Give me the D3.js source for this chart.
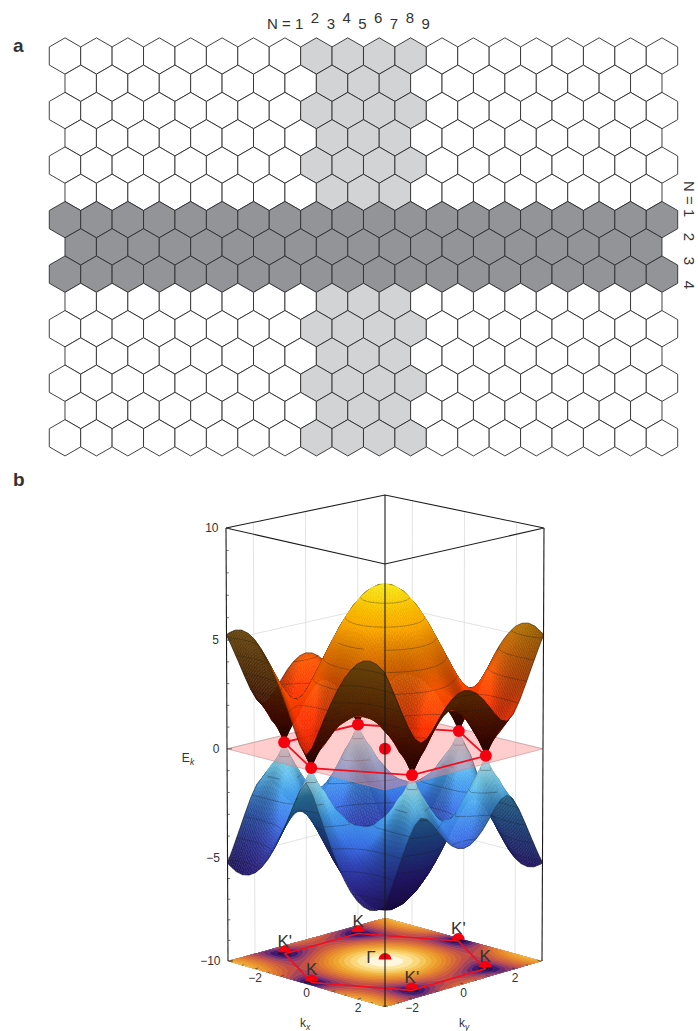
<!DOCTYPE html>
<html>
<head>
<meta charset="utf-8">
<script src="https://cdn.jsdelivr.net/npm/d3@7"></script>
<style>
  html, body { margin: 0; background: #fff; }
  text { font-family: "Liberation Sans", Arial, sans-serif; fill: #333; }
</style>
</head>
<body>
<svg id="drawing_region"></svg>
<script>
// panel a: honeycomb
const hexColumnCount = [20, 19];
const hexRowCount = 15;
const darkRows = [6, 7, 8];
const lightColumns = [8, 9, 10, 11];
const lightColumnsShort = [8, 9, 10];
const topLabels = ["2", "3", "4", "5", "6", "7", "8", "9"];
const sideLabels = ["2", "3", "4"];

// panel b: E(kx, ky) of the upper band (one quadrant, the plot is mirror symmetric)
const kxGrid = [0, 0.247, 0.494, 0.74, 0.987, 1.234, 1.481, 1.728, 1.974, 2.221, 2.468, 2.715, 2.962, 3.05];
const kyGrid = [0, 0.2375, 0.475, 0.7125, 0.95, 1.1875, 1.425, 1.6625, 1.9, 2.1375, 2.375, 2.6125, 2.85, 3.05];
const bandE = [
  [7.50, 7.42, 7.17, 6.78, 6.24, 5.59, 4.85, 4.07, 3.32, 2.73, 2.50, 2.73, 3.32, 3.58],
  [7.42, 7.34, 7.10, 6.71, 6.17, 5.52, 4.78, 4.00, 3.25, 2.66, 2.42, 2.66, 3.25, 3.51],
  [7.20, 7.12, 6.88, 6.49, 5.96, 5.32, 4.59, 3.81, 3.05, 2.45, 2.20, 2.45, 3.05, 3.31],
  [6.83, 6.75, 6.52, 6.14, 5.63, 5.00, 4.28, 3.50, 2.74, 2.10, 1.83, 2.10, 2.74, 3.00],
  [6.33, 6.26, 6.03, 5.67, 5.18, 4.57, 3.87, 3.11, 2.33, 1.65, 1.33, 1.65, 2.33, 2.60],
  [5.71, 5.64, 5.44, 5.10, 4.64, 4.07, 3.41, 2.67, 1.89, 1.14, 0.72, 1.14, 1.89, 2.17],
  [5.00, 4.94, 4.76, 4.46, 4.05, 3.54, 2.94, 2.27, 1.55, 0.78, 0.00, 0.78, 1.55, 1.81],
  [4.21, 4.16, 4.01, 3.77, 3.44, 3.03, 2.56, 2.04, 1.50, 1.02, 0.79, 1.02, 1.50, 1.69],
  [3.37, 3.34, 3.24, 3.09, 2.89, 2.65, 2.38, 2.11, 1.87, 1.70, 1.63, 1.70, 1.87, 1.95],
  [2.50, 2.50, 2.50, 2.50, 2.50, 2.50, 2.50, 2.50, 2.50, 2.50, 2.50, 2.50, 2.50, 2.50],
  [1.63, 1.70, 1.87, 2.11, 2.38, 2.65, 2.89, 3.09, 3.24, 3.34, 3.37, 3.34, 3.24, 3.20],
  [0.79, 1.02, 1.50, 2.04, 2.56, 3.03, 3.44, 3.77, 4.01, 4.16, 4.21, 4.16, 4.01, 3.94],
  [0.00, 0.78, 1.55, 2.27, 2.94, 3.54, 4.05, 4.46, 4.76, 4.94, 5.00, 4.94, 4.76, 4.66],
  [0.61, 1.06, 1.83, 2.60, 3.33, 3.99, 4.55, 5.00, 5.34, 5.54, 5.61, 5.54, 5.34, 5.23]
];
const diracKx = [0, -2.468, -2.468, 0, 2.468, 2.468];
const diracKy = [-2.85, -1.425, 1.425, 2.85, 1.425, -1.425];
const diracNames = ["K", "K'", "K", "K'", "K", "K'"];
const zTicks = [-10, -5, 0, 5, 10];
const zMinorTicks = d3.range(-10, 11);
const kTicks = [-2, 0, 2];
const kMinorTicks = [-3, -2.5, -2, -1.5, -1, -0.5, 0, 0.5, 1, 1.5, 2, 2.5, 3];
const wallLevels = [-5, 0, 5];
const meshLevels = [0.6, 1.5, 2.4, 3.3, 4.2, 5.1, 6.0, 6.9];
const floorLevels = d3.range(0, 7.6, 0.42);

const svg = d3.select("#drawing_region").attr("width", 698).attr("height", 1031);
const fmt = d3.format("d");
const minus = v => fmt(v).replace("-", "\u2212");

/* ---------- panel a ---------- */
const hexR = 18.15, hexW = 31.42, hexRowH = 27.27;
const hexX = d3.scaleLinear().domain([0, 1]).range([65, 65 + hexW]);
const hexY = d3.scaleLinear().domain([0, 1]).range([56, 56 + hexRowH]);
const hexPath = (cx, cy) => "M" + d3.range(6).map(i => {
  const a = Math.PI / 3 * i + Math.PI / 6;
  return [cx + hexR * Math.cos(a), cy + hexR * Math.sin(a)];
}).join("L") + "Z";

const hexCells = [];
d3.range(hexRowCount).forEach(r => {
  const odd = r % 2;
  d3.range(hexColumnCount[odd]).forEach(c => {
    let kind = "#fff";
    if (darkRows.includes(r)) kind = "#929497";
    else if ((odd ? lightColumnsShort : lightColumns).includes(c)) kind = "#d1d3d4";
    hexCells.push({ x: hexX(odd ? c + 0.5 : c), y: hexY(r), kind });
  });
});
svg.append("g").selectAll("path").data(hexCells).join("path")
  .attr("d", d => hexPath(d.x, d.y))
  .attr("fill", d => d.kind)
  .attr("stroke", "#2e2e2e")
  .attr("stroke-width", 0.9);

svg.append("text").attr("x", 13).attr("y", 52).attr("font-size", 19).attr("font-weight", "bold").text("a");
svg.append("text").attr("x", 13).attr("y", 486).attr("font-size", 19).attr("font-weight", "bold").text("b");
svg.append("text").attr("x", 267).attr("y", 29).attr("font-size", 15).text("N = 1");
svg.append("g").selectAll("text").data(topLabels).join("text")
  .attr("x", (d, i) => 315 + i * 15.8)
  .attr("y", (d, i) => i % 2 ? 29 : 23)
  .attr("text-anchor", "middle").attr("font-size", 15).text(d => d);
svg.append("text").attr("transform", "translate(684,181) rotate(90)").attr("font-size", 15).text("N = 1");
svg.append("g").selectAll("text").data(sideLabels).join("text")
  .attr("transform", (d, i) => `translate(684,${237 + i * 24}) rotate(90)`)
  .attr("text-anchor", "middle").attr("font-size", 15).text(d => d);

/* ---------- panel b: projection of the box ---------- */
const kMax = 3.05;
const uvScale = d3.scaleLinear().domain([-kMax, kMax]).range([-1, 1]);
const yTop = d3.scaleLinear().domain([-1, 0, 1]).range([495, 528, 564]);
const yBottom = d3.scaleLinear().domain([-1, 0, 1]).range([918, 961, 1007]);
const zFrac = d3.scaleLinear().domain(zTicks).range([0, 0.238, 0.49, 0.741, 1]);
const halfWidth = d3.scaleLinear().domain([0, 1]).range([157, 159]);

function project(kx, ky, e) {
  const u = uvScale(kx) / 2 + uvScale(ky) / 2;
  const v = uvScale(kx) / 2 - uvScale(ky) / 2;
  const t = zFrac(e);
  return [385 + u * halfWidth(t), yBottom(v) + (yTop(v) - yBottom(v)) * t];
}

const fullKx = [...kxGrid.slice(1).reverse().map(d => -d), ...kxGrid];
const fullKy = [...kyGrid.slice(1).reverse().map(d => -d), ...kyGrid];
const gridE = fullKy.map((ky, r) => fullKx.map((kx, c) =>
  bandE[Math.abs(r - kyGrid.length + 1)][Math.abs(c - kxGrid.length + 1)]));

const linePath = d3.line();
const closed = pts => linePath(pts) + "Z";

/* back walls */
const walls = svg.append("g").attr("fill", "none").attr("stroke", "#dcdcdc").attr("stroke-width", 0.8);
kTicks.forEach(k => {
  walls.append("path").attr("d", linePath([project(-kMax, k, -10), project(-kMax, k, 10)]));
  walls.append("path").attr("d", linePath([project(k, kMax, -10), project(k, kMax, 10)]));
});
wallLevels.forEach(e => {
  walls.append("path").attr("d", linePath([project(-kMax, -kMax, e), project(-kMax, kMax, e), project(kMax, kMax, e)]));
});

/* floor: contour map of the same table */
const colScale = d3.scaleLinear().domain(d3.range(fullKx.length)).range(fullKx).clamp(true);
const rowScale = d3.scaleLinear().domain(d3.range(fullKy.length)).range(fullKy).clamp(true);
const floorColor = d3.scaleLinear()
  .domain([0, 0.8, 1.5, 2.5, 4, 5.2, 6.4, 7.0, 7.35])
  .range(["#14052e", "#3c1670", "#86346e", "#c44e44", "#e58228", "#efac30", "#fbdc80", "#fdf2c8", "#ffffff"]);
const contours = d3.contours().size([fullKx.length, fullKy.length]).thresholds(floorLevels)(gridE.flat());
const floorPoint = d => project(colScale(d[0] - 0.5), rowScale(d[1] - 0.5), -10);
const floorPath = multi => multi.coordinates.map(poly => poly.map(ring => closed(ring.map(floorPoint))).join("")).join("");
svg.append("g").selectAll("path").data(contours).join("path")
  .attr("d", floorPath)
  .attr("fill", d => floorColor(d.value))
  .attr("fill-rule", "evenodd")
  .attr("stroke", "#ffffff")
  .attr("stroke-opacity", 0.18)
  .attr("stroke-width", 0.4);

/* floor hexagon, domes and labels */
const floorHex = diracKx.map((k, i) => project(k, diracKy[i], -10));
svg.append("path").attr("d", closed(floorHex)).attr("fill", "none").attr("stroke", "#f01020").attr("stroke-width", 1.6);
const dome = d3.arc().innerRadius(0).outerRadius(6.4).startAngle(-Math.PI / 2).endAngle(Math.PI / 2);
const domeSpots = floorHex.concat([project(0, 0, -10)]);
svg.append("g").selectAll("path").data(domeSpots).join("path")
  .attr("transform", d => `translate(${d[0]},${d[1] - 1.5})`)
  .attr("d", dome()).attr("fill", "#f5000f");
svg.append("g").selectAll("text").data(diracNames).join("text")
  .attr("x", (d, i) => floorHex[i][0])
  .attr("y", (d, i) => floorHex[i][1] - 7)
  .attr("text-anchor", "middle").attr("font-size", 17).text(d => d);
svg.append("text").attr("x", 371).attr("y", 963).attr("text-anchor", "middle").attr("font-size", 17).text("\u0393");

/* surfaces */
const upperColor = d3.scaleLinear().domain([0, 2, 3.5, 5, 6.5, 7.5])
  .range(["#d81a00", "#ff3400", "#ff5e00", "#ff9000", "#ffc000", "#fff020"]);
const upperBack = d3.scaleLinear().domain([0, 1.5, 3.5, 5.6])
  .range(["#1c0200", "#3a0c00", "#4d2a06", "#65440c"]);
const lowerColor = d3.scaleLinear().domain([-7.5, -6, -5, -4, -3, -2, -1, 0])
  .range(["#1e0a5a", "#2c1a88", "#3a30b0", "#3c52d8", "#3c78ea", "#48a4f0", "#80daf8", "#e0fbff"]);
const lowerBack = d3.scaleLinear().domain([-7.5, -5.5, -3.5, -1.5, 0])
  .range(["#170a3c", "#20145e", "#1a3a70", "#246486", "#9ccbd8"]);
const shade = d3.scaleLinear().domain([0, 0.5, 1.05]).range([0.55, 0.9, 1]).clamp(true);
const tiltShade = d3.scaleLinear().domain([0, 2.7, 3.3, 4.2]).range([1, 1, 0.82, 0.62]).clamp(true);
const cornerShade = d3.scaleLinear().domain([3.0, 4.3]).range([1, 0.62]).clamp(true);
const cellSteps = d3.range(4);

function mix(a, b, t) { return a + (b - a) * t; }

function buildQuads(sign) {
  const nr = fullKy.length - 1, nc = fullKx.length - 1;
  const rows = [];
  for (let r = 0; r < nr; r++) {
    rows.push([]);
    for (let c = 0; c < nc; c++) {
      const corners = [[c, r], [c + 1, r], [c + 1, r + 1], [c, r + 1]].map(([i, j]) => ({
        kx: fullKx[i], ky: fullKy[j], e: sign * gridE[j][i], i, j
      }));
      const pts = corners.map(p => project(p.kx, p.ky, p.e));
      const flat = corners.map(p => project(p.kx, p.ky, d3.mean(corners, q => q.e)));
      const gx = ((corners[1].e - corners[0].e) + (corners[2].e - corners[3].e)) / 2 / (corners[1].kx - corners[0].kx);
      const gy = ((corners[3].e - corners[0].e) + (corners[2].e - corners[1].e)) / 2 / (corners[3].ky - corners[0].ky);
      rows[r].push({
        r, c, corners, pts,
        facing: d3.polygonArea(pts) / d3.polygonArea(flat),
        slope: Math.hypot(gx, gy),
        depth: d3.mean(corners, q => q.kx - q.ky)
      });
    }
  }
  // shading per grid node, from the cells around it
  const nodeValue = (i, j, key) => {
    const near = [];
    for (let a = Math.max(0, j - 1); a <= Math.min(nr - 1, j); a++) {
      for (let b = Math.max(0, i - 1); b <= Math.min(nc - 1, i); b++) near.push(rows[a][b][key]);
    }
    return d3.mean(near);
  };
  rows.flat().forEach(q => q.corners.forEach(p => {
    p.facing = nodeValue(p.i, p.j, "facing");
    p.tilt = nodeValue(p.i, p.j, "slope");
    p.dim = cornerShade(Math.hypot(p.kx, p.ky));
  }));
  return rows.flat().sort((a, b) => d3.ascending(a.depth, b.depth));
}

function bilinear(q, s, t, key) {
  const c = q.corners;
  return mix(mix(c[0][key], c[1][key], s), mix(c[3][key], c[2][key], s), t);
}

function surfaceFill(e, facing, light, sign) {
  if (facing < 0) return sign > 0 ? upperBack(e) : lowerBack(e);
  const base = sign > 0 ? upperColor(e) : lowerColor(e);
  return d3.interpolateRgb("#000", base)(shade(facing) * light);
}

// each table cell is painted in a few strips so its colour runs on smoothly into the next one
function paintCell(cell, q, sign) {
  const n = cellSteps.length;
  const at = (s, t) => project(bilinear(q, s, t, "kx"), bilinear(q, s, t, "ky"), bilinear(q, s, t, "e"));
  cellSteps.forEach(a => cellSteps.forEach(b => {
    const s0 = a / n, s1 = (a + 1) / n, t0 = b / n, t1 = (b + 1) / n;
    const sm = (s0 + s1) / 2, tm = (t0 + t1) / 2;
    const light = tiltShade(bilinear(q, sm, tm, "tilt")) * bilinear(q, sm, tm, "dim");
    const fill = surfaceFill(bilinear(q, sm, tm, "e"), bilinear(q, sm, tm, "facing"), light, sign);
    cell.append("path").attr("d", closed([at(s0, t0), at(s1, t0), at(s1, t1), at(s0, t1)]))
      .attr("fill", fill).attr("stroke", fill).attr("stroke-width", 0.4);
  }));
}

function meshSegments(q, sign) {
  const segs = [];
  meshLevels.forEach(l0 => {
    const level = sign * l0;
    const hits = [];
    q.corners.forEach((a, i) => {
      const b = q.corners[(i + 1) % 4];
      if ((a.e - level) * (b.e - level) < 0) {
        const t = (level - a.e) / (b.e - a.e);
        hits.push(project(a.kx + (b.kx - a.kx) * t, a.ky + (b.ky - a.ky) * t, level));
      }
    });
    if (hits.length >= 2) segs.push(linePath(hits.slice(0, 2)));
  });
  return segs.join("");
}

function edgeSegments(q) {
  const nr = fullKy.length - 2, nc = fullKx.length - 2;
  const p = q.pts, segs = [];
  if (q.r === 0) segs.push(linePath([p[0], p[1]]));
  if (q.r === nr) segs.push(linePath([p[3], p[2]]));
  if (q.c === 0) segs.push(linePath([p[0], p[3]]));
  if (q.c === nc) segs.push(linePath([p[1], p[2]]));
  return segs.join("");
}

function drawSurface(sign) {
  const g = svg.append("g");
  g.selectAll("g").data(buildQuads(sign)).join("g").each(function(q) {
    const cell = d3.select(this);
    paintCell(cell, q, sign);
    const mesh = meshSegments(q, sign);
    if (mesh) {
      cell.append("path").attr("d", mesh).attr("fill", "none")
        .attr("stroke", "#1a1a1a").attr("stroke-opacity", 0.55).attr("stroke-width", 0.6);
    }
    const edge = edgeSegments(q);
    if (edge) {
      cell.append("path").attr("d", edge).attr("fill", "none")
        .attr("stroke", "#111").attr("stroke-opacity", 0.7).attr("stroke-width", 0.6);
    }
  });
}

drawSurface(-1);

/* E = 0 plane and hexagon */
svg.append("path")
  .attr("d", closed([project(-kMax, -kMax, 0), project(-kMax, kMax, 0), project(kMax, kMax, 0), project(kMax, -kMax, 0)]))
  .attr("fill", "#f88").attr("fill-opacity", 0.42).attr("stroke", "#c09090").attr("stroke-width", 0.6);
const planeHex = diracKx.map((k, i) => project(k, diracKy[i], 0));
svg.append("path").attr("d", closed(planeHex)).attr("fill", "none").attr("stroke", "#f01020").attr("stroke-width", 1.8);

drawSurface(1);

svg.append("g").selectAll("circle").data(planeHex.concat([project(0, 0, 0)])).join("circle")
  .attr("cx", d => d[0]).attr("cy", d => d[1]).attr("r", 6).attr("fill", "#f5000f");

/* box */
const box = svg.append("g").attr("fill", "none").attr("stroke", "#1a1a1a").attr("stroke-width", 1.1);
box.append("path").attr("d", closed([project(-kMax, -kMax, 10), project(-kMax, kMax, 10), project(kMax, kMax, 10), project(kMax, -kMax, 10)]));
box.append("path").attr("d", linePath([project(-kMax, -kMax, 10), project(-kMax, -kMax, -10)]));
box.append("path").attr("d", linePath([project(kMax, kMax, 10), project(kMax, kMax, -10)]));
box.append("path").attr("d", linePath([project(-kMax, kMax, 10), project(kMax, -kMax, 10)]));
box.append("path").attr("d", linePath([project(kMax, -kMax, 10), project(kMax, -kMax, -10)]));

/* ticks */
const ticks = svg.append("g").attr("stroke", "#333").attr("stroke-width", 0.7);
zMinorTicks.forEach(e => {
  const p = project(-kMax, -kMax, e);
  ticks.append("line").attr("x1", p[0]).attr("y1", p[1]).attr("x2", p[0] + (e % 5 ? 2.5 : 5)).attr("y2", p[1]);
});
kMinorTicks.forEach(k => {
  const len = k % 1 ? 0.06 : 0.12;
  const a = project(k, -kMax, -10), b = project(k, -kMax + len, -10);
  ticks.append("line").attr("x1", a[0]).attr("y1", a[1]).attr("x2", b[0]).attr("y2", b[1]);
  const c = project(kMax, k, -10), d = project(kMax - len, k, -10);
  ticks.append("line").attr("x1", c[0]).attr("y1", c[1]).attr("x2", d[0]).attr("y2", d[1]);
});

const labels = svg.append("g").attr("font-size", 12);
zTicks.forEach(e => {
  const p = project(-kMax, -kMax, e);
  labels.append("text").attr("x", p[0] - 7.5).attr("y", p[1] + 4).attr("text-anchor", "end").text(minus(e));
});
kTicks.forEach(k => {
  const a = project(k, -kMax, -10);
  labels.append("text").attr("x", a[0]).attr("y", a[1] + 13).attr("text-anchor", "middle").text(minus(k));
  const b = project(kMax, k, -10);
  labels.append("text").attr("x", b[0]).attr("y", b[1] + 13).attr("text-anchor", "middle").text(minus(k));
});

function subLabel(x, y, main, sub) {
  const t = labels.append("text").attr("x", x).attr("y", y).attr("text-anchor", "middle");
  t.append("tspan").text(main);
  t.append("tspan").attr("font-size", 8.5).attr("dy", 2.5).attr("font-style", "italic").text(sub);
}
subLabel(188, 762, "E", "k");
subLabel(305, 1027, "k", "x");
subLabel(464, 1027, "k", "y");
</script>
</body>
</html>
